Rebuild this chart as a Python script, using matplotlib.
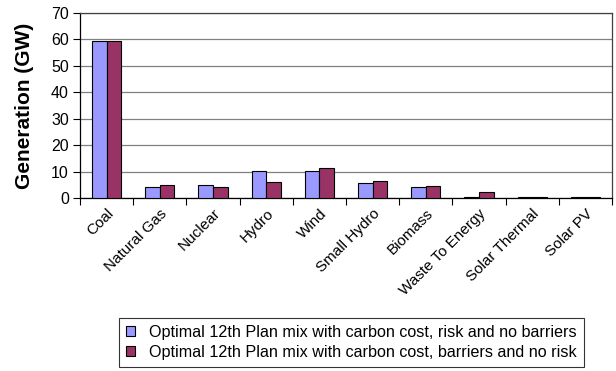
import matplotlib.pyplot as plt
import numpy as np

plt.rcParams['font.family'] = ['Liberation Sans', 'DejaVu Sans']

categories = ["Coal", "Natural Gas", "Nuclear", "Hydro", "Wind", "Small Hydro",
              "Biomass", "Waste To Energy", "Solar Thermal", "Solar PV"]
risk_no_barriers = [59.5, 4.0, 5.0, 10.4, 10.3, 5.7, 4.0, 0.4, 0.3, 0.3]
barriers_no_risk = [59.5, 4.9, 4.0, 6.0, 11.3, 6.5, 4.6, 2.1, 0.3, 0.3]
series_names = ["Optimal 12th Plan mix with carbon cost, risk and no barriers",
                "Optimal 12th Plan mix with carbon cost, barriers and no risk"]

x = np.arange(len(categories))
w = 0.275

fig = plt.figure(figsize=(6.16, 3.71), dpi=100)
ax = fig.add_axes([80 / 616, 1 - 198 / 371, 532 / 616, 185 / 371])

ax.bar(x - w / 2, risk_no_barriers, w, color="#9999FF", edgecolor="black",
       linewidth=0.8, label=series_names[0], zorder=3)
ax.bar(x + w / 2, barriers_no_risk, w, color="#993366", edgecolor="black",
       linewidth=0.8, label=series_names[1], zorder=3)

ax.set_xlim(-0.5, len(categories) - 0.5)
ax.set_ylim(0, 70)
ax.set_yticks(range(0, 71, 10))
ax.yaxis.grid(True, color="#808080", linewidth=0.9, zorder=0)
ax.tick_params(axis="y", labelsize=11.5, length=5, width=0.8, direction="out", pad=3)

# category ticks sit between groups, labels centred on groups
ax.set_xticks(np.arange(-0.5, len(categories), 1.0))
ax.set_xticklabels([])
ax.set_xticks(x, minor=True)
ax.set_xticklabels(categories, minor=True, rotation=45, ha="right",
                   rotation_mode="anchor", fontsize=11)
ax.tick_params(axis="x", which="major", length=5, width=0.8)
ax.tick_params(axis="x", which="minor", length=0, pad=6)

for s in ax.spines.values():
    s.set_linewidth(0.9)
ax.spines["top"].set_color("#404040")
ax.spines["right"].set_color("#404040")

ax.set_ylabel("Generation (GW)", fontsize=15, fontweight="bold", labelpad=12)

leg = fig.legend(loc="lower left", bbox_to_anchor=(119 / 616, 4 / 371),
                 fontsize=11.6, frameon=True, fancybox=False, edgecolor="black",
                 handlelength=0.55, handleheight=0.55, handletextpad=0.85,
                 borderpad=0.45, labelspacing=0.3, borderaxespad=0)
leg.get_frame().set_linewidth(0.8)

fig.savefig("out.png", dpi=100)
